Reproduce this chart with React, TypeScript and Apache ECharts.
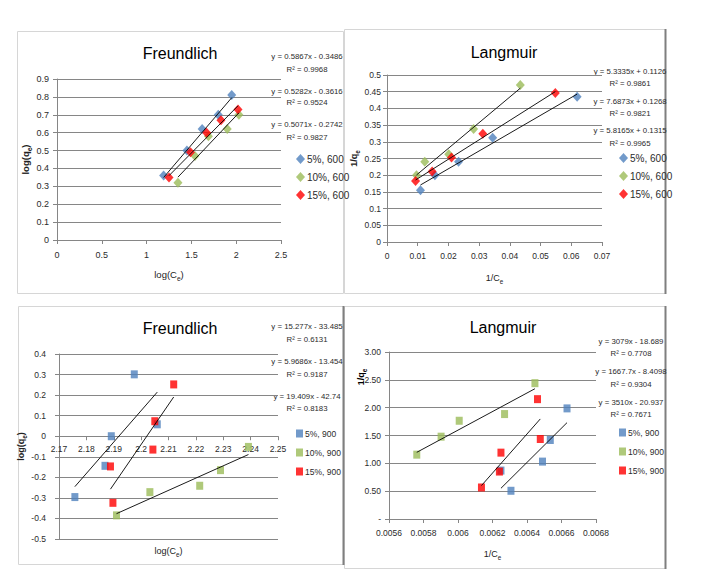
import React, { useEffect, useRef } from "react";
import * as echarts from "echarts";

const FONT = "'Liberation Sans', Arial, sans-serif";
const COLORS = ["#4F81BD", "#9BBB59", "#FF0000"];

// ---------- Panel A: Freundlich, 600 ----------
const frA_names = ["5%, 600", "10%, 600", "15%, 600"];
const frA_x5 = [1.19, 1.45, 1.62, 1.8, 1.95];
const frA_y5 = [0.36, 0.5, 0.62, 0.7, 0.81];
const frA_x10 = [1.35, 1.54, 1.69, 1.9, 2.03];
const frA_y10 = [0.32, 0.47, 0.58, 0.62, 0.7];
const frA_x15 = [1.25, 1.49, 1.67, 1.83, 2.02];
const frA_y15 = [0.35, 0.49, 0.6, 0.67, 0.73];
const frA_slope = [0.5867, 0.5282, 0.5071];
const frA_icpt = [-0.3486, -0.3616, -0.2742];
const frA_eq = ["y = 0.5867x - 0.3486", "y = 0.5282x - 0.3616", "y = 0.5071x - 0.2742"];
const frA_r2 = ["R² = 0.9968", "R² = 0.9524", "R² = 0.9827"];

// ---------- Panel B: Langmuir, 600 ----------
const laB_names = ["5%, 600", "10%, 600", "15%, 600"];
const laB_x5 = [0.0109, 0.0156, 0.0233, 0.0344, 0.0619];
const laB_y5 = [0.155, 0.2, 0.24, 0.312, 0.435];
const laB_x10 = [0.0096, 0.0123, 0.0201, 0.0282, 0.0434];
const laB_y10 = [0.2, 0.24, 0.263, 0.338, 0.47];
const laB_x15 = [0.0093, 0.0147, 0.021, 0.0312, 0.0548];
const laB_y15 = [0.183, 0.211, 0.253, 0.324, 0.446];
const laB_slope = [5.3335, 7.6873, 5.8165];
const laB_icpt = [0.1126, 0.1268, 0.1315];
const laB_eq = ["y = 5.3335x + 0.1126", "y = 7.6873x + 0.1268", "y = 5.8165x + 0.1315"];
const laB_r2 = ["R² = 0.9861", "R² = 0.9821", "R² = 0.9965"];

// ---------- Panel C: Freundlich, 900 ----------
const frC_names = ["5%, 900", "10%, 900", "15%, 900"];
const frC_x5 = [2.1758, 2.1868, 2.1891, 2.1975, 2.2059];
const frC_y5 = [-0.296, -0.144, 0.0, 0.301, 0.058];
const frC_x10 = [2.191, 2.2032, 2.2214, 2.229, 2.2392];
const frC_y10 = [-0.385, -0.272, -0.241, -0.165, -0.052];
const frC_x15 = [2.1888, 2.1897, 2.2043, 2.205, 2.2119];
const frC_y15 = [-0.147, -0.324, -0.065, 0.073, 0.252];
const frC_slope = [15.277, 5.9686, 19.409];
const frC_icpt = [-33.485, -13.454, -42.74];
const frC_eq = ["y = 15.277x - 33.485", "y = 5.9686x - 13.454", "y = 19.409x - 42.74"];
const frC_r2 = ["R² = 0.6131", "R² = 0.9187", "R² = 0.8183"];

// ---------- Panel D: Langmuir, 900 ----------
const laD_names = ["5%, 900", "10%, 900", "15%, 900"];
const laD_x5 = [0.006249, 0.006307, 0.00649, 0.006535, 0.006632];
const laD_y5 = [0.87, 0.507, 1.031, 1.419, 1.987];
const laD_x10 = [0.005761, 0.005902, 0.006007, 0.00627, 0.006446];
const laD_y10 = [1.156, 1.479, 1.765, 1.885, 2.44];
const laD_x15 = [0.006136, 0.00624, 0.006249, 0.006461, 0.006477];
const laD_y15 = [0.566, 0.852, 1.192, 2.153, 1.437];
const laD_slope = [3079, 1667.7, 3510];
const laD_icpt = [-18.689, -8.4098, -20.937];
const laD_eq = ["y = 3079x - 18.689", "y = 1667.7x - 8.4098", "y = 3510x - 20.937"];
const laD_r2 = ["R² = 0.7708", "R² = 0.9304", "R² = 0.7671"];

const titles = ["Freundlich", "Langmuir", "Freundlich", "Langmuir"];

// axis ranges [min, max, interval]
const xRanges = [[0, 2.5, 0.5], [0, 0.07, 0.01], [2.17, 2.25, 0.01], [0.0056, 0.0068, 0.0002]];
const yRanges = [[0, 0.9, 0.1], [0, 0.5, 0.05], [-0.5, 0.4, 0.1], [0, 3, 0.5]];

type Panel = {
  names: string[];
  xs: number[][];
  ys: number[][];
  slope: number[];
  icpt: number[];
  eq: string[];
  r2: string[];
  symbol: string;
  symbolSize: number | number[];
};

const panels: Panel[] = [
  { names: frA_names, xs: [frA_x5, frA_x10, frA_x15], ys: [frA_y5, frA_y10, frA_y15], slope: frA_slope, icpt: frA_icpt, eq: frA_eq, r2: frA_r2, symbol: "diamond", symbolSize: [9, 10] },
  { names: laB_names, xs: [laB_x5, laB_x10, laB_x15], ys: [laB_y5, laB_y10, laB_y15], slope: laB_slope, icpt: laB_icpt, eq: laB_eq, r2: laB_r2, symbol: "diamond", symbolSize: [9, 10] },
  { names: frC_names, xs: [frC_x5, frC_x10, frC_x15], ys: [frC_y5, frC_y10, frC_y15], slope: frC_slope, icpt: frC_icpt, eq: frC_eq, r2: frC_r2, symbol: "rect", symbolSize: [7, 8] },
  { names: laD_names, xs: [laD_x5, laD_x10, laD_x15], ys: [laD_y5, laD_y10, laD_y15], slope: laD_slope, icpt: laD_icpt, eq: laD_eq, r2: laD_r2, symbol: "rect", symbolSize: [7, 8] },
];

// layout (pixels)
const grids = [
  { left: 57, top: 79, width: 224, height: 161 },
  { left: 387, top: 75, width: 215, height: 167 },
  { left: 59, top: 354, width: 219, height: 185 },
  { left: 389, top: 352, width: 207, height: 167 },
];
const titlePos = [[180, 53], [504, 52], [180, 328], [503, 327]];
const eqPos = [
  { x: 307, y: [56, 69, 91, 102, 124, 137] },
  { x: 630, y: [71, 83, 101, 113, 130, 143] },
  { x: 307, y: [326, 339, 361, 374, 396, 408] },
  { x: 631, y: [341, 353, 371, 384, 402, 414] },
];
const legendPos = [
  { left: 296, top: 154 },
  { left: 619, top: 153 },
  { left: 296, top: 429 },
  { left: 619, top: 428 },
];
const frames = [
  { x: 17, y: 31, w: 326, h: 262, dark: false },
  { x: 344, y: 29, w: 321, h: 264, dark: true },
  { x: 18, y: 306, w: 325, h: 258, dark: true },
  { x: 344, y: 306, w: 321, h: 262, dark: true },
];

const GRID_C = "#868686";
const LABEL_C = "#2b2b2b";

const subRich = (size: number, bold: boolean) => ({
  m: { fontSize: size, fontFamily: FONT, fontWeight: bold ? "bold" : "normal", color: "#222", lineHeight: size + 4, verticalAlign: "bottom" },
  s: { fontSize: size * 0.7, fontFamily: FONT, fontWeight: bold ? "bold" : "normal", color: "#222", lineHeight: size * 0.7, verticalAlign: "bottom", padding: [0, 0, -2, 0] },
});

function xAxisCfg(i: number, name: string, gap: number, labelSize: number, margin: number) {
  const [min, max, interval] = xRanges[i];
  const [ymin, ymax] = yRanges[i];
  // place the horizontal axis on y = 0 (Excel style) when the value range crosses zero
  const zeroOffset = ymin < 0 && ymax > 0 ? -grids[i].height * (0 - ymin) / (ymax - ymin) : 0;
  return {
    type: "value",
    gridIndex: i,
    min,
    max,
    interval,
    offset: zeroOffset,
    name,
    nameLocation: "middle",
    nameGap: gap,
    nameTextStyle: { rich: subRich(labelSize + 0.5, false) },
    axisLine: { show: true, onZero: false, lineStyle: { color: GRID_C, width: 1 } },
    axisTick: { show: true, length: 4, lineStyle: { color: GRID_C } },
    axisLabel: { fontFamily: FONT, fontSize: labelSize, color: LABEL_C, margin },
    splitLine: { show: false },
  };
}

function yAxisCfg(i: number, name: string, gap: number, labelSize: number, margin: number, formatter?: any) {
  const [min, max, interval] = yRanges[i];
  return {
    type: "value",
    gridIndex: i,
    min,
    max,
    interval,
    name,
    nameLocation: "middle",
    nameGap: gap,
    nameTextStyle: { rich: subRich(labelSize + 0.5, true) },
    axisLine: { show: true, onZero: false, lineStyle: { color: GRID_C, width: 1 } },
    axisTick: { show: true, length: 4, lineStyle: { color: GRID_C } },
    axisLabel: { fontFamily: FONT, fontSize: labelSize, color: LABEL_C, margin, formatter },
    splitLine: { show: true, lineStyle: { color: GRID_C, width: 1 } },
  };
}

export default function App() {
  const ref = useRef<HTMLDivElement>(null);
  useEffect(() => {
    if (!ref.current) return;
    const chart = echarts.init(ref.current, undefined, { renderer: "svg" });

    const series: any[] = [];
    panels.forEach((p, pi) => {
      p.names.forEach((nm, si) => {
        series.push({
          type: "scatter",
          name: nm,
          xAxisIndex: pi,
          yAxisIndex: pi,
          symbol: p.symbol,
          symbolSize: p.symbolSize,
          itemStyle: { color: COLORS[si] },
          data: p.xs[si].map((x, k) => [x, p.ys[si][k]]),
          z: 2,
        });
      });
      p.names.forEach((nm, si) => {
        const xmin = Math.min(...p.xs[si]);
        const xmax = Math.max(...p.xs[si]);
        series.push({
          type: "line",
          name: nm + " trend",
          xAxisIndex: pi,
          yAxisIndex: pi,
          symbol: "none",
          silent: true,
          lineStyle: { color: "#000", width: 0.9 },
          data: [
            [xmin, p.slope[si] * xmin + p.icpt[si]],
            [xmax, p.slope[si] * xmax + p.icpt[si]],
          ],
          z: 3,
        });
      });
    });

    const graphic: any[] = [];
    frames.forEach((f) => {
      graphic.push({ type: "rect", shape: { x: f.x + 0.5, y: f.y + 0.5, width: f.w, height: f.h }, style: { fill: "#fff", stroke: "#d6d6d6", lineWidth: 1 }, z: -10 });
      if (f.dark) {
        graphic.push({ type: "line", shape: { x1: f.x + f.w + 0.5, y1: f.y, x2: f.x + f.w + 0.5, y2: f.y + f.h + 1 }, style: { stroke: "#7f7f7f", lineWidth: 2 }, z: -9 });
      }
    });
    titles.forEach((t, i) => {
      graphic.push({ type: "text", x: titlePos[i][0], y: titlePos[i][1], style: { text: t, fontFamily: FONT, fontSize: 16, fill: "#000", align: "center", verticalAlign: "middle" } });
    });
    panels.forEach((p, pi) => {
      for (let k = 0; k < 3; k++) {
        graphic.push({ type: "text", x: eqPos[pi].x, y: eqPos[pi].y[2 * k], style: { text: p.eq[k], fontFamily: FONT, fontSize: 7.8, fill: LABEL_C, align: "center", verticalAlign: "middle" } });
        graphic.push({ type: "text", x: eqPos[pi].x, y: eqPos[pi].y[2 * k + 1], style: { text: p.r2[k], fontFamily: FONT, fontSize: 7.8, fill: LABEL_C, align: "center", verticalAlign: "middle" } });
      }
    });
    // y-axis name of panel D (placed high, as in the source)
    graphic.push({
      type: "text",
      x: 359,
      y: 377,
      rotation: Math.PI / 2,
      style: { text: "{m|1/q}{s|e}", rich: subRich(9, true), align: "center", verticalAlign: "middle" },
    });

    const legends = panels.map((p, pi) => ({
      data: p.names,
      orient: "vertical",
      left: legendPos[pi].left,
      top: legendPos[pi].top,
      icon: p.symbol,
      itemWidth: pi < 2 ? 9 : 7,
      itemHeight: pi < 2 ? 10 : 8,
      itemGap: pi < 2 ? 8 : 10,
      padding: 0,
      selectedMode: false,
      textStyle: { fontFamily: FONT, fontSize: pi < 2 ? 10 : 8.5, color: LABEL_C, padding: [0, 0, 0, -3] },
    }));

    chart.setOption({
      animation: false,
      backgroundColor: "#fff",
      grid: grids.map((g) => ({ ...g, containLabel: false, outerBoundsMode: "none" })),
      xAxis: [
        xAxisCfg(0, "{m|log(C}{s|e}{m|)}", 26, 9, 10),
        xAxisCfg(1, "{m|1/C}{s|e}", 27, 8.5, 9),
        xAxisCfg(2, "{m|log(C}{s|e}{m|)}", 106, 8.5, 8),
        xAxisCfg(3, "{m|1/C}{s|e}", 26, 8.5, 9),
      ],
      yAxis: [
        yAxisCfg(0, "{m|log(q}{s|e}{m|)}", 18, 9, 8),
        yAxisCfg(1, "{m|1/q}{s|e}", 22, 8.5, 6),
        yAxisCfg(2, "{m|log(q}{s|e}{m|)}", 22, 8.5, 13),
        yAxisCfg(3, "", 0, 8.5, 8, (v: number) => (v === 0 ? "-" : v.toFixed(2))),
      ],
      legend: legends,
      series,
      graphic,
    });
    return () => chart.dispose();
  }, []);
  return <div ref={ref} style={{ position: "absolute", left: 0, top: 0, width: 709, height: 579 }} />;
}
